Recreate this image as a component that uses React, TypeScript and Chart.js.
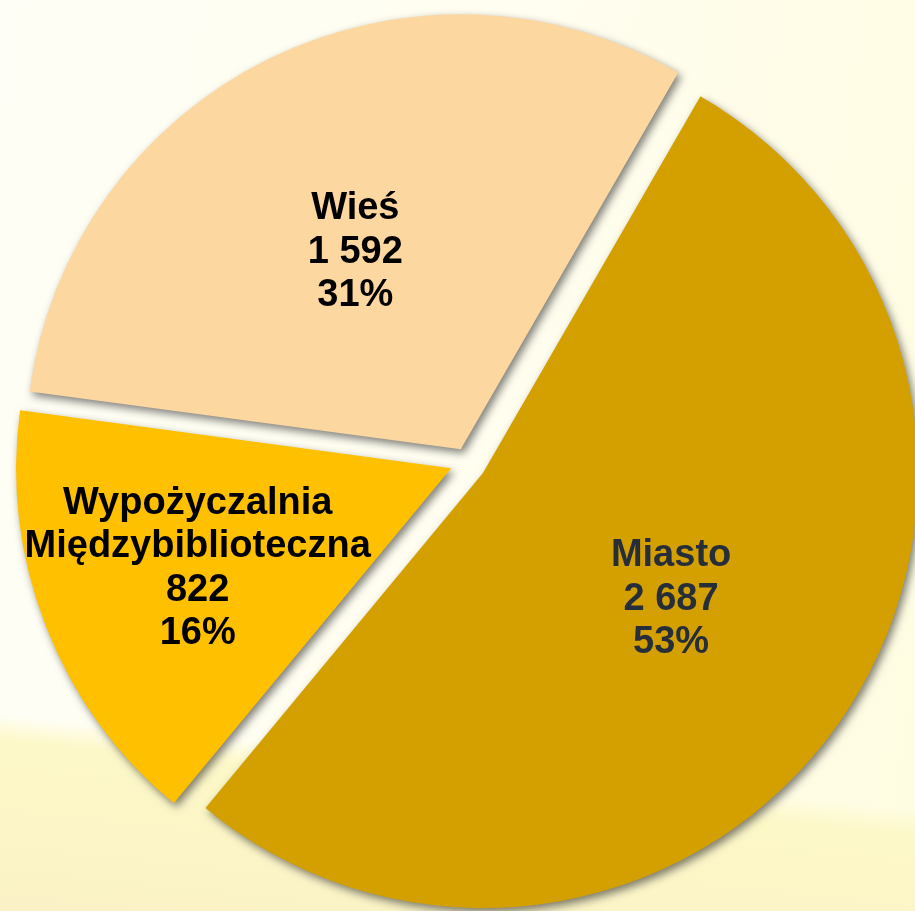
import React, { useEffect, useRef } from "react";
import { Chart, registerables } from "chart.js";

Chart.register(...registerables);

// ---- data ----
const categories: string[][] = [["Miasto"], ["Wypożyczalnia", "Międzybiblioteczna"], ["Wieś"]];
const values: number[] = [2687, 822, 1592];

// ---- styles ----
const sliceColors = ["#D4A000", "#FFC000", "#FDD7A0"];
const labelColors = ["#262E3A", "#000000", "#000000"];
const explodePx = [19.4, 17, 14.2];
const labelRadiusFrac = [0.517, 0.624, 0.52];
const labelAngleShiftDeg = [-1.6, 0.4, -1.6];
const FONT_SIZE = 38;
const LINE_PITCH = 43.5;

const fmt = (v: number) => String(v).replace(/\B(?=(\d{3})+(?!\d))/g, " ");

const explodePlugin = {
  id: "explodeSlices",
  beforeDatasetsDraw(chart: any) {
    const { chartArea } = chart;
    const cx = (chartArea.left + chartArea.right) / 2;
    const cy = (chartArea.top + chartArea.bottom) / 2;
    const meta = chart.getDatasetMeta(0);
    meta.data.forEach((arc: any, i: number) => {
      const mid = (arc.startAngle + arc.endAngle) / 2;
      arc.x = cx + Math.cos(mid) * explodePx[i];
      arc.y = cy + Math.sin(mid) * explodePx[i];
    });
    const ctx = chart.ctx;
    ctx.save();
    ctx.shadowColor = "rgba(40,40,40,0.6)";
    ctx.shadowBlur = 8;
    ctx.shadowOffsetX = 3;
    ctx.shadowOffsetY = 4;
  },
  afterDatasetsDraw(chart: any) {
    const ctx = chart.ctx;
    ctx.restore();
    const meta = chart.getDatasetMeta(0);
    const data = chart.data.datasets[0].data as number[];
    const total = data.reduce((a, b) => a + b, 0);
    ctx.save();
    ctx.font = `bold ${FONT_SIZE}px "Liberation Sans", Arial, sans-serif`;
    ctx.textAlign = "center";
    ctx.textBaseline = "alphabetic";
    meta.data.forEach((arc: any, i: number) => {
      const mid = (arc.startAngle + arc.endAngle) / 2 + (labelAngleShiftDeg[i] * Math.PI) / 180;
      const r = arc.outerRadius * labelRadiusFrac[i];
      const x = arc.x + Math.cos(mid) * r;
      const y = arc.y + Math.sin(mid) * r;
      const lines = [
        ...categories[i],
        fmt(data[i]),
        Math.round((data[i] / total) * 100) + "%",
      ];
      const n = lines.length;
      ctx.fillStyle = labelColors[i];
      lines.forEach((t, k) => {
        const cyLine = y + (k - (n - 1) / 2) * LINE_PITCH;
        ctx.fillText(t, x, cyLine + FONT_SIZE * 0.36);
      });
    });
    ctx.restore();
  },
};

export default function App() {
  const ref = useRef<HTMLCanvasElement>(null);
  useEffect(() => {
    if (!ref.current) return;
    const chart = new Chart(ref.current, {
      type: "pie",
      data: {
        labels: categories.map((c) => c.join(" ")),
        datasets: [
          {
            data: values,
            backgroundColor: sliceColors,
            borderWidth: 0,
          },
        ],
      },
      options: {
        responsive: false,
        animation: false,
        devicePixelRatio: 1,
        rotation: 30,
        radius: 435,
        layout: { padding: 0 },
        plugins: {
          legend: { display: false },
          tooltip: { enabled: false },
          title: { display: false },
        },
        events: [],
      } as any,
      plugins: [explodePlugin],
    });
    return () => chart.destroy();
  }, []);

  return (
    <div
      style={{
        position: "absolute",
        left: 0,
        top: 0,
        width: 915,
        height: 911,
        overflow: "hidden",
        background:
          "linear-gradient(186deg, rgba(253,248,200,0) 80.5%, rgba(253,248,200,1) 83%, rgba(250,242,198,1) 100%), linear-gradient(100deg, #FFFEF6 0%, #FFFEF0 50%, #FEFCE0 100%)",
      }}
    >
      <canvas ref={ref} width={934} height={924} style={{ display: "block" }} />
    </div>
  );
}
